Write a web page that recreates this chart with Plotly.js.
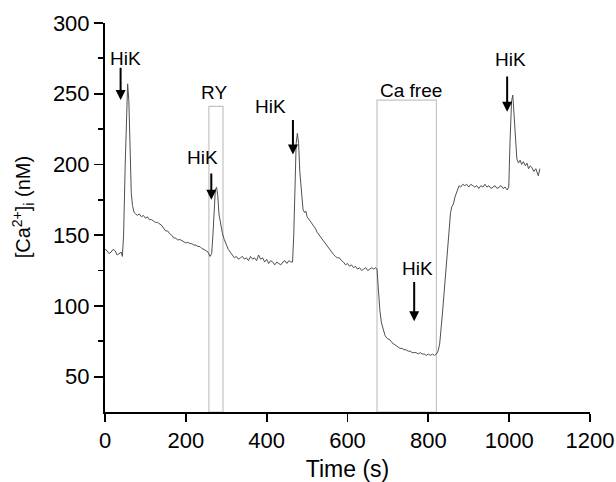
<!DOCTYPE html>
<html>
<head>
<meta charset="utf-8">
<script src="https://cdn.plot.ly/plotly-3.0.1.min.js"></script>
<style>html,body{margin:0;padding:0;background:#fff;}#chart{width:616px;height:482px;}</style>
</head>
<body>
<div id="chart"></div>
<script>
// Time (s)
const timeS = [
  0,5,10,15,20,25,30,35,40,43,
  46,50,53,56,59,62,65,68,72,76,
  80,85,90,95,100,105,110,115,120,125,
  130,135,140,145,150,155,160,165,170,175,
  180,185,190,195,200,205,210,215,220,225,
  230,235,240,245,250,255,260,264,267,270,
  273,276,279,282,285,290,295,300,305,310,
  315,320,325,330,335,340,345,350,355,360,
  365,370,375,380,385,390,395,400,405,410,
  415,420,425,430,435,440,445,450,455,460,
  464,467,470,473,476,479,482,486,490,494,
  497,500,505,510,515,520,525,530,535,540,
  545,550,555,560,565,570,575,580,585,590,
  595,600,605,610,615,620,625,630,635,640,
  645,650,655,660,665,670,673,676,680,684,
  688,693,698,705,710,715,720,725,730,735,
  740,745,750,755,760,765,770,775,780,785,
  790,795,800,805,810,815,820,824,828,835,
  841,845,850,855,858,862,866,870,876,880,
  885,890,895,900,905,910,915,920,925,930,
  935,940,945,950,955,960,965,970,975,980,
  985,990,995,999,1002,1006,1009,1012,1016,1019,
  1023,1027,1031,1035,1040,1044,1048,1052,1056,1061,
  1066,1069,1072,1076];
// [Ca2+]i (nM)
const caNM = [
  140,139,137,138,140,139,136,137,138,135,
  150,200,240,257,245,210,180,171,166,165,
  164,165,163,164,162,163,161,161,160,159,
  159,158,157,155,153,153,151,150,148,148,
  146.5,147,146,145,144.5,145,144,144,143,143,
  142,142,140.5,140,139,138,135,137,150,170,
  182,184,178,165,160,152,147,143,140,138,
  136,134,135,133,134,135,133,134,132,135,
  133,134,132,136,133,134,131,133,130,132,
  131,129,131,130,129,131,132,130,132,131,
  131,150,185,215,222,215,195,178,168,166,
  167,163,161,159,157,155,152,150,148,146,
  144,142,140,138,136.5,135,134,134,132,131,
  129,130,128,129,127,128,126,127,125,126,
  127,125,126,127,126,127,126,112,97,88,
  83,79,77,76,74,73,72,71,70,70,
  69,69,68,68,67,67,67,66,67,66,
  66,65,66,65,66,65,66,68,73,95,
  116,127,150,166,170,172,177,180,185,184,
  186,185,186,184,186,185,184,185,183,185,
  184,186,184,185,183,184,185,183,184,185,
  183,184,182,184,215,245,249,235,215,204,
  201,203,200,202,199,201,197,199,198,195,
  197,194,192,197];

// Event annotations
const labelText = ["HiK","RY","HiK","HiK","Ca free","HiK","HiK"];
const labelX = [51,269,240,410,757,774,1003];
const labelY = [275,251,205,241,252,126.5,274];
const arrowT = [38.6,263,465,765,995];
const arrowFrom = [269.5,194.7,232.5,118,263.2];
const arrowTo = [245.5,175,207,89.2,237.2];
// Treatment boxes
const boxStart = [257,673];
const boxEnd = [292,820];
const boxTop = [241,245.5];

const font = "Liberation Sans, Arial, sans-serif";

const annotations = [];
for (let i = 0; i < labelText.length; i++) {
  annotations.push({x: labelX[i], y: labelY[i], xref:'x', yref:'y', text: labelText[i],
    showarrow:false, font:{family:font, size:19, color:'#000'}, xanchor:'center', yanchor:'middle'});
}
for (let i = 0; i < arrowT.length; i++) {
  annotations.push({x: arrowT[i], y: arrowTo[i], ax: arrowT[i], ay: arrowFrom[i], axref:'x', ayref:'y',
    xref:'x', yref:'y', text:'', showarrow:true, arrowhead:2, arrowsize:1, arrowwidth:2,
    arrowcolor:'#000', standoff:0, startstandoff:0});
}
// y-axis title
annotations.push({xref:'paper', yref:'paper', x:-0.168, y:0.525, xanchor:'center', yanchor:'middle',
  textangle:-90, showarrow:false, text:'[Ca<sup>2+</sup>]<sub>i</sub> (nM)',
  font:{family:font, size:20, color:'#000'}});

const shapes = [];
for (let i = 0; i < boxStart.length; i++) {
  shapes.push({type:'rect', xref:'x', yref:'y', x0: boxStart[i], x1: boxEnd[i], y0: 25, y1: boxTop[i],
    line:{color:'#c4c4c4', width:1.2}, fillcolor:'rgba(0,0,0,0)', layer:'below'});
}

const trace = {x: timeS, y: caNM, type:'scatter', mode:'lines',
  line:{color:'#505050', width:1}, hoverinfo:'skip'};

const layout = {
  width:616, height:482,
  margin:{l:105, r:26, t:23, b:70},
  paper_bgcolor:'#fff', plot_bgcolor:'#fff',
  font:{family:font, color:'#000'},
  showlegend:false,
  xaxis:{range:[0,1200], tickvals:[0,200,400,600,800,1000,1200], showgrid:false, zeroline:false,
    showline:true, linecolor:'#000', linewidth:2, ticks:'outside', ticklen:8, tickwidth:1.8, tickcolor:'#000',
    tickfont:{family:font, size:22, color:'#000'},
    title:{text:'Time (s)', font:{family:font, size:23, color:'#000'}, standoff:13}},
  yaxis:{range:[25,300], tickvals:[50,100,150,200,250,300], showgrid:false, zeroline:false,
    showline:true, linecolor:'#000', linewidth:2, ticks:'outside', ticklen:9, tickwidth:1.8, tickcolor:'#000',
    minor:{tickvals:[75,125,175,225,275], ticks:'outside', ticklen:5, tickwidth:1.8, tickcolor:'#000', showgrid:false},
    tickfont:{family:font, size:22, color:'#000'}},
  shapes: shapes,
  annotations: annotations
};

Plotly.newPlot('chart', [trace], layout, {displayModeBar:false, staticPlot:true});
</script>
</body>
</html>
